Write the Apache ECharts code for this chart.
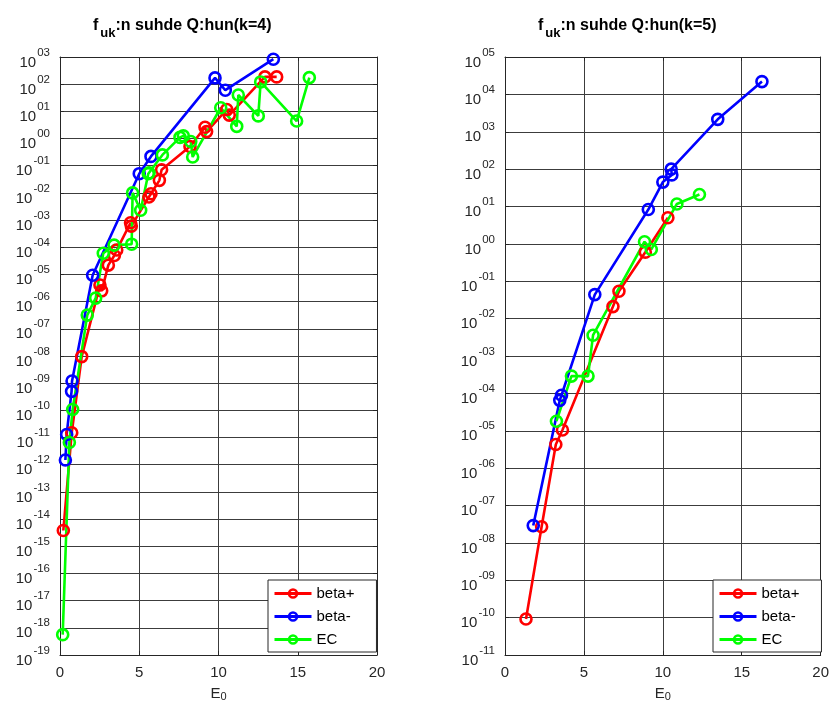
<!DOCTYPE html>
<html>
<head>
<meta charset="utf-8">
<script src="https://cdn.jsdelivr.net/npm/echarts@6/dist/echarts.min.js"></script>
<style>
  html, body { margin: 0; padding: 0; background: #fff; }
  #chart { width: 832px; height: 707px; }
</style>
</head>
<body>
<div id="chart"></div>
<script>
// Axis ranges and tick labels
const xTicks = [0, 5, 10, 15, 20];
const yRangeK4 = [1e-19, 1e3];
const yRangeK5 = [1e-11, 1e5];
const seriesNames = ['beta+', 'beta-', 'EC'];

// k = 4 : E0 values and ratios
const betaPlusK4E = [0.21, 0.74, 1.37, 2.52, 2.63, 3.05, 3.43, 3.58, 4.45, 4.5, 5.61, 5.74, 6.27, 6.41, 8.2, 9.15, 9.25, 10.52, 10.68, 12.93, 13.67];
const betaPlusK4V = [3.8e-15, 1.5e-11, 9.5e-9, 4.1e-6, 2.5e-6, 2.2e-5, 5e-5, 7.9e-5, 8e-4, 6e-4, 7.1e-3, 9.3e-3, 0.029, 0.071, 0.51, 2.6, 1.8, 11.7, 7.3, 185, 185];
const betaMinusK4E = [0.34, 0.42, 0.73, 0.76, 2.06, 5.0, 5.74, 9.78, 10.43, 13.46];
const betaMinusK4V = [1.5e-12, 1.3e-11, 5e-10, 1.2e-9, 9.3e-6, 0.051, 0.22, 170, 60, 830];
const ecK4E = [0.17, 0.59, 0.80, 1.72, 2.25, 2.73, 3.41, 4.52, 4.58, 5.09, 5.57, 5.62, 6.46, 7.57, 7.78, 8.25, 8.37, 10.14, 11.15, 11.25, 12.51, 12.66, 14.93, 15.73];
const ecK4V = [5.6e-19, 6.6e-12, 1.07e-10, 3.2e-7, 1.35e-6, 6e-5, 1.2e-4, 1.3e-4, 0.01, 2.3e-3, 0.051, 0.055, 0.25, 1.1, 1.25, 0.78, 0.21, 13.6, 2.8, 40, 6.8, 121, 4.4, 174];

// k = 5 : E0 values and ratios
const betaPlusK5E = [1.33, 2.32, 3.22, 3.64, 6.84, 7.22, 8.89, 10.32];
const betaPlusK5V = [9.2e-11, 2.7e-8, 4.3e-6, 1.05e-5, 0.021, 0.054, 0.6, 5.0];
const betaMinusK5E = [1.79, 3.47, 3.58, 5.69, 9.08, 10.0, 10.57, 10.53, 13.48, 16.28];
const betaMinusK5V = [2.9e-8, 6.5e-5, 8.9e-5, 0.044, 8.3, 45, 70, 100, 2150, 2.2e4];
const ecK5E = [3.26, 4.21, 5.26, 5.58, 8.84, 9.27, 10.89, 12.32];
const ecK5V = [1.8e-5, 2.9e-4, 2.9e-4, 3.6e-3, 1.14, 0.71, 11.7, 21];

const colors = { 'beta+': '#ff0000', 'beta-': '#0000ff', 'EC': '#00ff00' };
const axisColor = '#262626';
const gridColor = '#3c3c3c';
const FONT = 'Liberation Sans, Arial, Helvetica, sans-serif';

function zip(xs, ys) { return xs.map((x, i) => [x, ys[i]]); }

// "10" with a two-digit signed exponent, e.g. 10^-01
function powLabel(v) {
  const e = Math.round(Math.log10(v));
  const sign = e < 0 ? '-' : '';
  const a = Math.abs(e);
  return '{b|10}{s|' + sign + (a < 10 ? '0' : '') + a + '}';
}

const yLabelRich = {
  b: { fontSize: 15, color: axisColor, fontFamily: FONT, padding: [11, 0, 0, 0] },
  s: { fontSize: 11.5, color: axisColor, fontFamily: FONT, padding: [0, 0, 9, 1] }
};

const grids = [
  { left: 60, top: 57, width: 317, height: 601 },
  { left: 505, top: 57, width: 317, height: 601 }
];

function xAxisFor(gi) {
  return [{
    type: 'value', gridIndex: gi, min: xTicks[0], max: xTicks[xTicks.length - 1], interval: xTicks[1] - xTicks[0], position: 'bottom',
    axisLine: { show: true, onZero: false, lineStyle: { color: axisColor, width: 1 } },
    axisTick: { show: true, inside: true, length: 4, lineStyle: { color: axisColor } },
    axisLabel: { color: axisColor, fontSize: 15, fontFamily: FONT, margin: 10 },
    splitLine: { show: true, lineStyle: { color: gridColor, width: 1 } },
    name: '{a|E}{s|0}', nameLocation: 'middle', nameGap: 30,
    nameTextStyle: { rich: {
      a: { fontSize: 15, color: axisColor, fontFamily: FONT },
      s: { fontSize: 11, color: axisColor, fontFamily: FONT, padding: [6, 0, 0, 0] }
    } }
  }, {
    type: 'value', gridIndex: gi, min: xTicks[0], max: xTicks[xTicks.length - 1], interval: xTicks[1] - xTicks[0], position: 'top',
    axisLine: { show: true, onZero: false, lineStyle: { color: axisColor, width: 1 } },
    axisTick: { show: true, inside: true, length: 4, lineStyle: { color: axisColor } },
    axisLabel: { show: false }, splitLine: { show: false }
  }];
}

function yAxisFor(gi, range) {
  const common = {
    type: 'log', logBase: 10, gridIndex: gi, min: range[0], max: range[1], interval: 1,
    axisLine: { show: true, onZero: false, lineStyle: { color: axisColor, width: 1 } },
    axisTick: { show: true, inside: true, length: 4, lineStyle: { color: axisColor } }
  };
  return [Object.assign({}, common, {
    position: 'left',
    axisLabel: { formatter: powLabel, rich: yLabelRich, margin: 10 },
    splitLine: { show: true, lineStyle: { color: gridColor, width: 1 } }
  }), Object.assign({}, common, {
    position: 'right',
    axisLabel: { show: false }, splitLine: { show: false }
  })];
}

function lineSeries(name, xi, yi, xs, ys) {
  return {
    name, type: 'line', xAxisIndex: xi, yAxisIndex: yi,
    data: zip(xs, ys),
    symbol: 'circle', symbolSize: 11, showAllSymbol: true,
    lineStyle: { color: colors[name], width: 2.6 },
    itemStyle: { color: 'rgba(255,255,255,0)', borderColor: colors[name], borderWidth: 2.6 },
    emphasis: { disabled: true },
    z: 3, animation: false
  };
}

function titleFor(left, k) {
  return {
    left, top: 6,
    text: '{a|f}{s|uk}{a|:n suhde Q:hun(k=' + k + ')}',
    textStyle: { rich: {
      a: { fontSize: 16, fontWeight: 'bold', color: '#000', fontFamily: FONT },
      s: { fontSize: 13, fontWeight: 'bold', color: '#000', fontFamily: FONT, padding: [16, 0, 0, 2] }
    } }
  };
}

function legendFor(left) {
  return {
    data: seriesNames, orient: 'vertical', left, top: 580,
    itemWidth: 37, itemHeight: 10, itemGap: 8,
    padding: [6, 22, 5, 5],
    backgroundColor: '#fff', borderColor: axisColor, borderWidth: 1, borderRadius: 0,
    itemStyle: { borderWidth: 2.5 },
    lineStyle: { width: 3 },
    textStyle: { fontSize: 15, color: '#000', fontFamily: FONT },
    selectedMode: false
  };
}

const chart = echarts.init(document.getElementById('chart'), null, { renderer: 'canvas' });
chart.setOption({
  animation: false,
  backgroundColor: '#fff',
  title: [titleFor(88, 4), titleFor(533, 5)],
  legend: [legendFor(268), legendFor(713)],
  grid: grids,
  xAxis: [...xAxisFor(0), ...xAxisFor(1)],
  yAxis: [...yAxisFor(0, yRangeK4), ...yAxisFor(1, yRangeK5)],
  series: [
    lineSeries('beta+', 0, 0, betaPlusK4E, betaPlusK4V),
    lineSeries('beta-', 0, 0, betaMinusK4E, betaMinusK4V),
    lineSeries('EC', 0, 0, ecK4E, ecK4V),
    lineSeries('beta+', 2, 2, betaPlusK5E, betaPlusK5V),
    lineSeries('beta-', 2, 2, betaMinusK5E, betaMinusK5V),
    lineSeries('EC', 2, 2, ecK5E, ecK5V)
  ]
});
</script>
</body>
</html>
